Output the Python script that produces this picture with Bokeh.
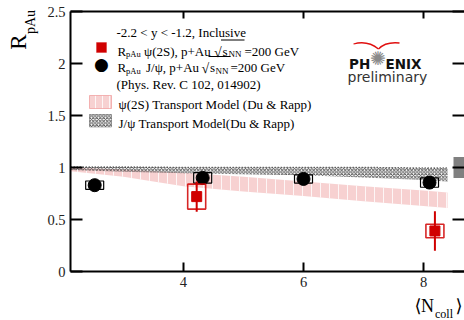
import math
from bokeh.plotting import figure
from bokeh.models import Label, BoxAnnotation, LinearAxis, FixedTicker, Range1d
from bokeh.embed import file_html
from bokeh.resources import INLINE

# ---------------- data ----------------
jpsi_ncoll = [2.52, 4.32, 6.00, 8.10]
jpsi_r = [0.83, 0.90, 0.89, 0.855]
jpsi_sys = [0.04, 0.05, 0.04, 0.045]

psi2s_ncoll = [4.22, 8.19]
psi2s_r = [0.72, 0.39]
psi2s_stat = [0.145, 0.19]
psi2s_sys = [0.12, 0.065]

model_ncoll = [2.12, 3.0, 4.0, 5.0, 6.0, 7.0, 8.0, 8.4]
psi2s_model_hi = [1.00, 0.98, 0.95, 0.91, 0.865, 0.82, 0.78, 0.76]
psi2s_model_lo = [0.965, 0.91, 0.82, 0.77, 0.725, 0.675, 0.63, 0.61]
jpsi_model_hi = [1.005, 1.005, 1.0, 1.0, 1.0, 1.0, 0.995, 0.995]
jpsi_model_lo = [0.975, 0.96, 0.945, 0.935, 0.925, 0.905, 0.88, 0.865]

global_unc = 0.1

xticks = [4, 6, 8]
xtick_labels = ["4", "6", "8"]
yticks = [0, 0.5, 1, 1.5, 2, 2.5]
ytick_labels = ["0", "0.5", "1", "1.5", "2", "2.5"]

# ---------------- layout ----------------
W, H = 464, 320
PX_L, PX_R, PX_T, PX_B = 70, 464, 11, 271     # plot-area edges in pixels
x_lo, x_hi = 2.117, 8.683
y_lo, y_hi = 0.0, 2.5
kx = (x_hi - x_lo) / (PX_R - PX_L)
ky = (y_hi - y_lo) / (PX_B - PX_T)


def dx(px):
    return x_lo + (px - PX_L) * kx


def dy(py):
    return y_lo + (PX_B - py) * ky


SERIF = "Liberation Serif"
SANS = "DejaVu Sans"
RED = "#d00000"

p = figure(width=W, height=H, output_backend="svg", toolbar_location=None,
           x_range=Range1d(x_lo - PX_L * kx, x_hi + (W - PX_R) * kx),
           y_range=Range1d(y_lo - (H - PX_B) * ky, y_hi + PX_T * ky),
           x_axis_location=None, y_axis_location=None, min_border=0)
p.background_fill_color = "white"
p.border_fill_color = "white"
p.outline_line_color = None
p.xgrid.visible = False
p.ygrid.visible = False

ytick_map = {float(t): s for t, s in zip(yticks, ytick_labels)}
xtick_map = {float(t): s for t, s in zip(xticks, xtick_labels)}


def style_axis(ax, tin, show_labels, line=True):
    ax.axis_line_width = 2
    ax.axis_line_color = "black" if line else None
    ax.major_tick_line_width = 2
    ax.major_tick_line_color = "black"
    ax.major_tick_in = tin
    ax.major_tick_out = 0
    ax.minor_tick_line_color = None
    if show_labels:
        ax.major_label_text_font = SERIF
        ax.major_label_text_font_size = "14.5px"
        ax.major_label_text_color = "#222222"
        ax.major_label_standoff = 5
    else:
        ax.major_label_text_color = None


left = LinearAxis(ticker=FixedTicker(ticks=yticks), major_label_overrides=ytick_map,
                  fixed_location=x_lo, bounds=(y_lo, y_hi))
style_axis(left, 12, True)
p.add_layout(left, "left")
bottom = LinearAxis(ticker=FixedTicker(ticks=xticks), major_label_overrides=xtick_map,
                    fixed_location=y_lo, bounds=(x_lo, x_hi))
style_axis(bottom, 9, True)
p.add_layout(bottom, "below")
top = LinearAxis(ticker=FixedTicker(ticks=xticks), fixed_location=y_hi,
                 bounds=(x_lo, x_hi))
style_axis(top, 7, False)
p.add_layout(top, "above")
right = LinearAxis(ticker=FixedTicker(ticks=yticks), fixed_location=x_hi,
                   bounds=(y_lo, y_hi))
style_axis(right, 12, False, line=False)
p.add_layout(right, "right")

# ---------------- model bands ----------------
p.varea(x=model_ncoll, y1=psi2s_model_lo, y2=psi2s_model_hi,
        fill_color="#f5c6c6", fill_alpha=0.8,
        hatch_pattern="vertical_line", hatch_color="white", hatch_alpha=0.8,
        hatch_scale=9, hatch_weight=1)
p.varea(x=model_ncoll, y1=jpsi_model_lo, y2=jpsi_model_hi,
        fill_alpha=0, hatch_pattern="diagonal_cross", hatch_color="#333333",
        hatch_scale=3.5, hatch_weight=0.9, hatch_alpha=0.9)
p.line(x=model_ncoll, y=jpsi_model_hi, line_color="#333333", line_width=1.5,
       line_dash="1 2")

# global uncertainty box at unity
p.quad(left=[dx(453)], right=[x_hi], bottom=[1 - global_unc], top=[1 + global_unc],
       fill_color="#808080", line_color=None)

# ---------------- data points ----------------
hw = 0.15
p.quad(left=[x - hw for x in jpsi_ncoll], right=[x + hw for x in jpsi_ncoll],
       bottom=[r - s for r, s in zip(jpsi_r, jpsi_sys)],
       top=[r + s for r, s in zip(jpsi_r, jpsi_sys)],
       fill_color=None, line_color="black", line_width=1.2)
p.scatter(x=jpsi_ncoll, y=jpsi_r, marker="circle", size=13, fill_color="black",
          line_color="black")

p.segment(x0=psi2s_ncoll, x1=psi2s_ncoll,
          y0=[r - s for r, s in zip(psi2s_r, psi2s_stat)],
          y1=[r + s for r, s in zip(psi2s_r, psi2s_stat)],
          line_color=RED, line_width=2)
p.quad(left=[x - hw for x in psi2s_ncoll], right=[x + hw for x in psi2s_ncoll],
       bottom=[r - s for r, s in zip(psi2s_r, psi2s_sys)],
       top=[r + s for r, s in zip(psi2s_r, psi2s_sys)],
       fill_color=None, line_color=RED, line_width=1.6, line_alpha=0.85)
p.scatter(x=psi2s_ncoll, y=psi2s_r, marker="square", size=10, fill_color=RED,
          line_color=RED)


# ---------------- text helpers ----------------
def lab(px, py, text, size, font=SERIF, color="black", angle=0.0,
        align="left", baseline="alphabetic", style="normal"):
    p.add_layout(Label(x=dx(px), y=dy(py), text=text, text_font=font,
                       text_font_size=f"{size}px", text_color=color, angle=angle,
                       text_align=align, text_baseline=baseline,
                       text_font_style=style))


def hbar(px0, px1, py, thick=1.0, color="black"):
    p.add_layout(BoxAnnotation(left=dx(px0), right=dx(px1), top=dy(py - thick / 2),
                               bottom=dy(py + thick / 2), fill_color=color,
                               fill_alpha=1, line_color=None))


# legend
lab(116, 32, "-2.2 < y < -1.2, Inclusive", 13)

# row 1: psi(2S)
p.add_layout(BoxAnnotation(left=dx(96), right=dx(106), top=dy(42), bottom=dy(52),
                           fill_color=RED, fill_alpha=1, line_color=RED))
lab(117, 50.5, "R", 13)
lab(125.5, 53.5, "pAu", 8.5)
lab(143.5, 50.5, "ψ(2S), p+Au", 13)
lab(213.5, 51.5, "√", 14)
lab(222, 50.5, "s", 13)
lab(228, 53.5, "NN", 9)
hbar(220.5, 244, 39.5)
lab(244, 50.5, "=200 GeV", 13)

# row 2: J/psi
lab(101, 63.5, "●", 17, font="DejaVu Sans", align="center", baseline="middle")
lab(117, 67, "R", 13)
lab(125.5, 70, "pAu", 8.5)
lab(145.5, 67, "J/ψ, p+Au", 13)
lab(201, 68, "√", 14)
lab(209.5, 67, "s", 13)
lab(215, 70, "NN", 9)
hbar(208, 230, 56)
lab(230, 67, "=200 GeV", 13)

lab(116, 84, "(Phys. Rev. C 102, 014902)", 13)

# row 4: psi(2S) model
p.add_layout(BoxAnnotation(left=dx(89), right=dx(111), top=dy(95), bottom=dy(108),
                           fill_color="#f5c6c6", fill_alpha=0.8, line_color="#e03030",
                           line_width=1, hatch_pattern="vertical_line",
                           hatch_color="white", hatch_alpha=0.8, hatch_scale=7,
                           hatch_weight=1))
lab(118, 104, "ψ(2S) Transport Model (Du & Rapp)", 13)

# row 5: J/psi model
p.add_layout(BoxAnnotation(left=dx(89), right=dx(111), top=dy(114), bottom=dy(126.5),
                           fill_color="white", fill_alpha=1, line_color="black",
                           line_width=1, hatch_pattern="diagonal_cross",
                           hatch_color="#333333", hatch_alpha=0.9, hatch_scale=3.5,
                           hatch_weight=0.9))
lab(118, 123, "J/ψ Transport Model(Du & Rapp)", 13)

# PHENIX logo
p.quadratic(x0=[dx(353)], y0=[dy(43.5)], x1=[dx(378)], y1=[dy(48.5)],
            cx=[dx(367)], cy=[dy(39.5)], line_color="#e01010", line_width=1.3)
p.quadratic(x0=[dx(378)], y0=[dy(48.5)], x1=[dx(399)], y1=[dy(42.5)],
            cx=[dx(385)], cy=[dy(41)], line_color="#e01010", line_width=1.3)
lab(348.5, 63, "PH", 13.5, font=SANS, style="bold", color="#111111")
lab(377.5, 57.5, "✺", 19, font="DejaVu Sans", color="#8a8a8a", align="center",
    baseline="middle")
lab(385, 63, "ENIX", 13.5, font=SANS, style="bold", color="#111111")
lab(347, 76, "preliminary", 14, font=SANS, color="#333333")

# axis titles
lab(17.5, 41.5, "R", 23, angle=math.pi / 2, align="center", baseline="middle")
lab(29.5, 21.5, "pAu", 14, angle=math.pi / 2, align="center", baseline="middle")
lab(414, 305, "⟨", 18, font="DejaVu Serif")
lab(420.5, 305, "N", 18)
lab(434.5, 313.5, "coll", 12)
lab(455, 305, "⟩", 18, font="DejaVu Serif")

open("out.html", "w").write(file_html(p, INLINE))
